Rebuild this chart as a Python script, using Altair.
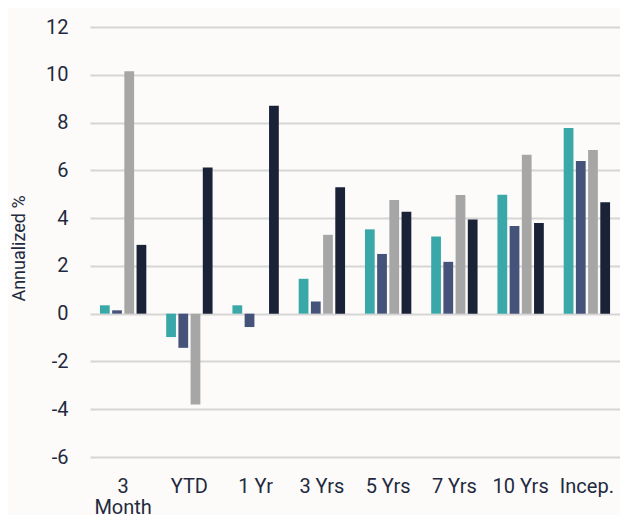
import altair as alt
import pandas as pd

categories = ["3 Month", "YTD", "1 Yr", "3 Yrs", "5 Yrs", "7 Yrs", "10 Yrs", "Incep."]
series = ["S1", "S2", "S3", "S4"]
s1 = [0.35, -0.98, 0.35, 1.46, 3.53, 3.23, 4.98, 7.77]
s2 = [0.14, -1.43, -0.56, 0.51, 2.50, 2.17, 3.67, 6.39]
s3 = [10.15, -3.80, 0.0, 3.30, 4.76, 4.97, 6.65, 6.85]
s4 = [2.88, 6.12, 8.70, 5.29, 4.27, 3.94, 3.80, 4.66]
colors = ["#3AA8A8", "#45527A", "#A6A6A6", "#1A2238"]
y_ticks = [-6, -4, -2, 0, 2, 4, 6, 8, 10, 12]

rows = []
for name, vals in zip(series, [s1, s2, s3, s4]):
    for c, v in zip(categories, vals):
        rows.append({"cat": c, "series": name, "value": v})
df = pd.DataFrame(rows)

chart = alt.Chart(df).mark_bar().encode(
    x=alt.X("cat:N", sort=categories,
            scale=alt.Scale(paddingInner=0.3, paddingOuter=0.15),
            axis=alt.Axis(title=None, labelAngle=0, domain=False, ticks=False,
                          labelPadding=19, labelFontSize=20, labelColor="#1F2A40",
                          labelFont="Roboto", labelLineHeight=21,
                          labelExpr="datum.value == '3 Month' ? ['3', 'Month'] : datum.value")),
    xOffset=alt.XOffset("series:N", sort=series,
                        scale=alt.Scale(paddingInner=0.2, paddingOuter=0)),
    y=alt.Y("value:Q",
            scale=alt.Scale(domain=[-6, 12], nice=False),
            axis=alt.Axis(title="Annualized %", values=y_ticks, domain=False, ticks=False,
                          labelExpr="toString(datum.value)",
                          labelPadding=22, labelFontSize=20, labelColor="#1F2A40",
                          labelFont="Roboto", titleFont="Roboto", titleFontSize=18,
                          titleFontWeight="normal", titleColor="#1F2A40",
                          titleX=-71, titleY=221, titleAlign="center",
                          titleBaseline="middle", titleAngle=270,
                          gridColor="#D6D6D6", gridWidth=2)),
    color=alt.Color("series:N", sort=series,
                    scale=alt.Scale(domain=series, range=colors), legend=None),
).properties(
    width=530, height=430,
    autosize=alt.AutoSizeParams(type="none"),
    padding={"left": 82, "top": 19, "right": 0, "bottom": 58},
    background="#FCFBF9",
).configure_view(stroke=None)

chart.save("out.html", embed_options={"renderer": "svg", "actions": False})
